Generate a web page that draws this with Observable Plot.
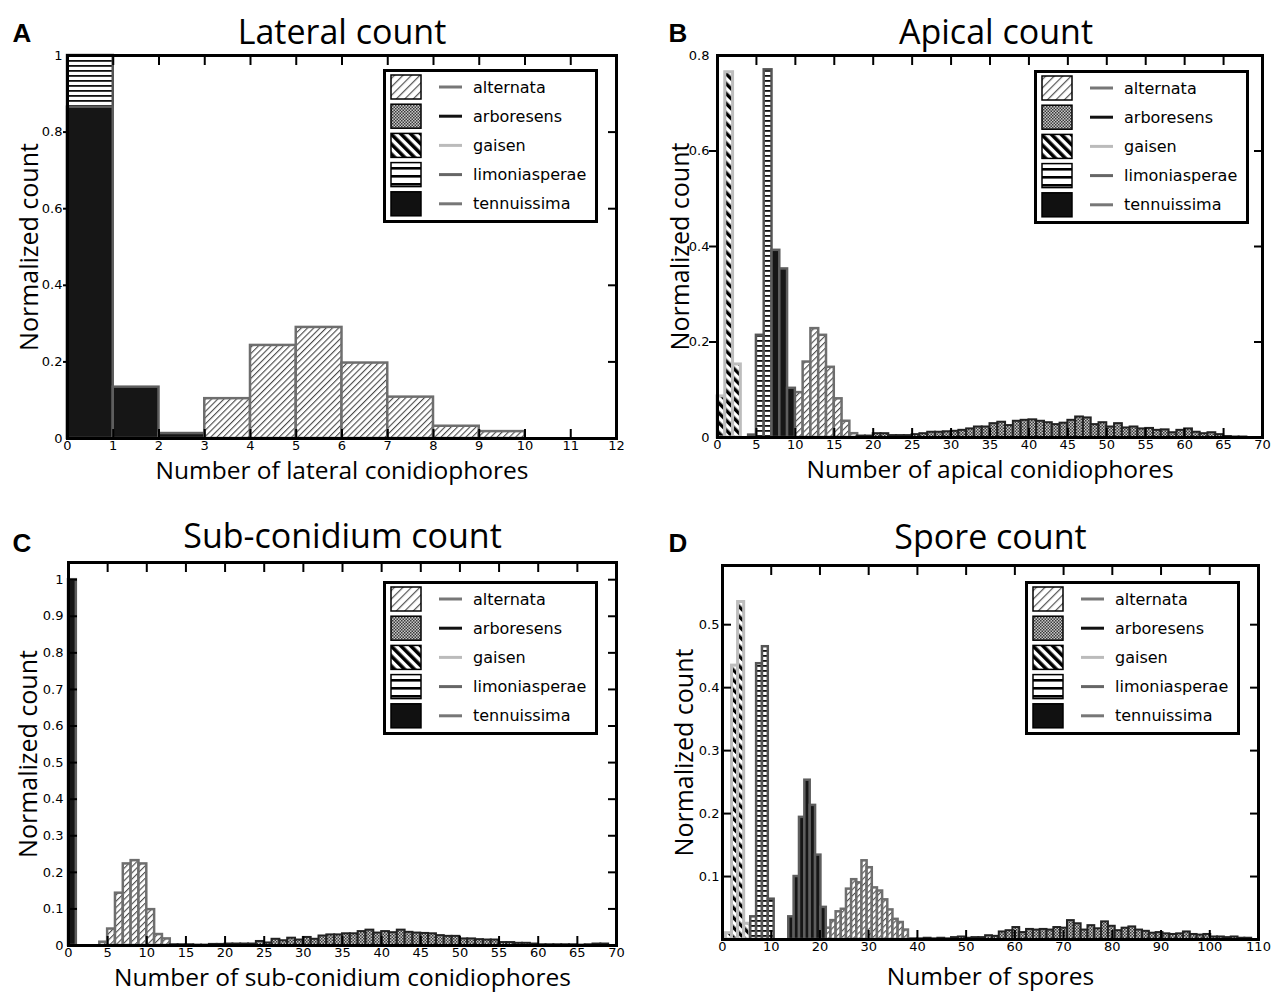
<!DOCTYPE html>
<html><head><meta charset="utf-8">
<script src="https://cdn.jsdelivr.net/npm/d3@7"></script>
<script src="https://cdn.jsdelivr.net/npm/@observablehq/plot@0.6"></script>
<style>
html,body{margin:0;padding:0;background:#fff;}
#root{position:relative;width:1271px;height:992px;overflow:hidden;background:#fff;}
.panel{position:absolute;}
.legend{position:absolute;}
</style></head>
<body><div id="root"></div>
<script>
// ---------------- DATA ----------------
const species = ["alternata", "arboresens", "gaisen", "limoniasperae", "tennuissima"];

// Panel A – lateral conidiophores (bins: start, width, normalized counts)
const latAlternata     = {start: 3, width: 1, values: [0.104, 0.243, 0.290, 0.197, 0.108, 0.032, 0.018]};
const latLimoniasperae = {start: 0, width: 1, values: [1.0]};
const latTennuissima   = {start: 0, width: 1, values: [0.865, 0.134, 0.013]};
const latXTicks = [0, 1, 2, 3, 4, 5, 6, 7, 8, 9, 10, 11, 12];
const latXLabels = ["0","1","2","3","4","5","6","7","8","9","10","11","12"];
const latYTicks = [0, 0.2, 0.4, 0.6, 0.8, 1];
const latYLabels = ["0","0.2","0.4","0.6","0.8","1"];

// Panel B – apical conidiophores
const apiAlternata     = {start: 9, width: 1, values: [0.03, 0.094, 0.158, 0.228, 0.214, 0.147, 0.081, 0.034, 0.008]};
const apiArboresens    = {start: 18, width: 1, values: [0.003, 0.003, 0.008, 0.008, 0.004, 0.004, 0.004, 0.006, 0.008, 0.011, 0.011, 0.012, 0.013, 0.015, 0.018, 0.022, 0.022, 0.029, 0.032, 0.025, 0.034, 0.036, 0.037, 0.034, 0.031, 0.027, 0.030, 0.036, 0.043, 0.041, 0.027, 0.031, 0.022, 0.029, 0.020, 0.022, 0.018, 0.019, 0.015, 0.016, 0.010, 0.015, 0.018, 0.011, 0.008, 0.010, 0.006, 0.002, 0.001, 0.001]};
const apiGaisen        = {start: 0, width: 1, values: [0.086, 0.765, 0.153]};
const apiLimoniasperae = {start: 4, width: 1, values: [0.005, 0.214, 0.770, 0.020, 0.005]};
const apiTennuissima   = {start: 7, width: 1, values: [0.392, 0.353, 0.103]};
const apiXTicks = [0, 5, 10, 15, 20, 25, 30, 35, 40, 45, 50, 55, 60, 65, 70];
const apiXLabels = ["0","5","10","15","20","25","30","35","40","45","50","55","60","65","70"];
const apiYTicks = [0, 0.2, 0.4, 0.6, 0.8];
const apiYLabels = ["0","0.2","0.4","0.6","0.8"];

// Panel C – sub-conidium conidiophores
const subAlternata   = {start: 4, width: 1, values: [0.009, 0.045, 0.143, 0.223, 0.232, 0.223, 0.098, 0.030, 0.018]};
const subArboresens  = {start: 13, width: 1, values: [0.002, 0.002, 0.002, 0.001, 0.001, 0.003, 0.003, 0.004, 0.004, 0.004, 0.004, 0.011, 0.007, 0.017, 0.013, 0.020, 0.015, 0.022, 0.017, 0.026, 0.029, 0.029, 0.032, 0.032, 0.038, 0.042, 0.034, 0.038, 0.035, 0.042, 0.036, 0.034, 0.033, 0.032, 0.027, 0.025, 0.025, 0.018, 0.018, 0.016, 0.015, 0.015, 0.008, 0.008, 0.006, 0.006, 0.004, 0.002, 0.002, 0.002, 0.002, 0.002, 0.001, 0.002, 0.004, 0.004]};
const subTennuissima = {start: 0, width: 1, values: [1.0]};
const subXTicks = [0, 5, 10, 15, 20, 25, 30, 35, 40, 45, 50, 55, 60, 65, 70];
const subXLabels = ["0","5","10","15","20","25","30","35","40","45","50","55","60","65","70"];
const subYTicks = [0, 0.1, 0.2, 0.3, 0.4, 0.5, 0.6, 0.7, 0.8, 0.9, 1];
const subYLabels = ["0","0.1","0.2","0.3","0.4","0.5","0.6","0.7","0.8","0.9","1"];

// Panel D – spores
const spoAlternata     = {start: 21.2, width: 1.06, values: [0.018, 0.030, 0.044, 0.048, 0.080, 0.095, 0.090, 0.125, 0.114, 0.082, 0.077, 0.063, 0.047, 0.032, 0.027, 0.015]};
const spoArboresens    = {start: 38.6, width: 1.4, values: [0.001, 0.001, 0.002, 0.001, 0.002, 0.001, 0.003, 0.004, 0.002, 0.003, 0.003, 0.006, 0.005, 0.012, 0.014, 0.019, 0.011, 0.016, 0.015, 0.016, 0.015, 0.019, 0.018, 0.030, 0.025, 0.015, 0.022, 0.017, 0.028, 0.021, 0.014, 0.018, 0.020, 0.015, 0.013, 0.010, 0.011, 0.009, 0.008, 0.009, 0.012, 0.008, 0.007, 0.008, 0.004, 0.004, 0.003, 0.004, 0.002, 0.002]};
const spoGaisen        = {start: 0.7, width: 1.25, values: [0.010, 0.435, 0.536, 0.025]};
const spoLimoniasperae = {start: 5.8, width: 1.2, values: [0.036, 0.438, 0.465, 0.064]};
const spoTennuissima   = {start: 13.6, width: 1.1, values: [0.036, 0.100, 0.194, 0.253, 0.213, 0.134, 0.051]};
const spoXTicks = [0, 10, 20, 30, 40, 50, 60, 70, 80, 90, 100, 110];
const spoXLabels = ["0","10","20","30","40","50","60","70","80","90","100","110"];
const spoYTicks = [0.1, 0.2, 0.3, 0.4, 0.5];
const spoYLabels = ["0.1","0.2","0.3","0.4","0.5"];

// ---------------- STYLES ----------------
const barStyle = {
  alternata:     {fill: "url(#pat-alternata)", stroke: "#6e6e6e", strokeWidth: 2.5},
  arboresens:    {fill: "url(#pat-arboresens)", stroke: "#222", strokeWidth: 2},
  gaisen:        {fill: "url(#pat-gaisen)", stroke: "#bdbdbd", strokeWidth: 3},
  limoniasperae: {fill: "url(#pat-limoniasperae)", stroke: "#555", strokeWidth: 2.5},
  tennuissima:   {fill: "#161616", stroke: "#5e5e5e", strokeWidth: 2.5}
};
const legendFill = {
  alternata: "url(#pat-alternata-leg)", arboresens: "url(#pat-arboresens)", gaisen: "url(#pat-gaisen-leg)",
  limoniasperae: "url(#pat-limoniasperae-leg)", tennuissima: "#111"
};
const lineColor = {alternata: "#777", arboresens: "#111", gaisen: "#bbb", limoniasperae: "#666", tennuissima: "#777"};

const root = d3.select("#root");

// pattern definitions
const defs = root.append("svg").attr("width", 0).attr("height", 0).style("position", "absolute").append("defs");
function stripePattern(id, size, stripe, color, bg, angle) {
  const p = defs.append("pattern").attr("id", id).attr("patternUnits", "userSpaceOnUse")
    .attr("width", size).attr("height", size).attr("patternTransform", `rotate(${angle})`);
  p.append("rect").attr("width", size).attr("height", size).attr("fill", bg);
  p.append("rect").attr("x", 0).attr("width", stripe).attr("height", size).attr("fill", color);
}
stripePattern("pat-alternata", 4.4, 1.1, "#4a4a4a", "#fff", 45);
stripePattern("pat-alternata-leg", 6, 1.2, "#555", "#fff", 45);
stripePattern("pat-gaisen", 7, 3.4, "#000", "#fff", -45);
stripePattern("pat-gaisen-leg", 7, 3.6, "#000", "#fff", -45);
{
  const p = defs.append("pattern").attr("id", "pat-limoniasperae").attr("patternUnits", "userSpaceOnUse").attr("width", 8).attr("height", 5);
  p.append("rect").attr("width", 8).attr("height", 5).attr("fill", "#fff");
  p.append("rect").attr("y", 0).attr("width", 8).attr("height", 1.8).attr("fill", "#111");
  const q = defs.append("pattern").attr("id", "pat-limoniasperae-leg").attr("patternUnits", "userSpaceOnUse").attr("width", 8).attr("height", 8).attr("y", 2);
  q.append("rect").attr("width", 8).attr("height", 8).attr("fill", "#fff");
  q.append("rect").attr("y", 0).attr("width", 8).attr("height", 2.6).attr("fill", "#000");
  const a = defs.append("pattern").attr("id", "pat-arboresens").attr("patternUnits", "userSpaceOnUse").attr("width", 3).attr("height", 3);
  a.append("rect").attr("width", 3).attr("height", 3).attr("fill", "#c8c8c8");
  a.append("rect").attr("width", 1.5).attr("height", 1.5).attr("fill", "#3a3a3a");
  a.append("rect").attr("x", 1.5).attr("y", 1.5).attr("width", 1.5).attr("height", 1.5).attr("fill", "#3a3a3a");
}

function toBins(s) {
  return s.values.map((v, i) => ({x1: s.start + i * s.width, x2: s.start + (i + 1) * s.width, y: v}));
}
function fmt(ticks, labels) { return d => { const i = ticks.indexOf(d); return i < 0 ? "" : labels[i]; }; }

function panel(cfg) {
  const m = cfg.margin;
  const bars = cfg.series.map(([name, s]) =>
    Plot.rect(toBins(s), {x1: "x1", x2: "x2", y1: 0, y2: "y", ...barStyle[name]}));
  const innerX = cfg.xTicks.slice(1, -1);
  const innerY = cfg.yInner;
  const tickOnly = {fill: "none", label: null, strokeWidth: 2, stroke: "#000"};
  const svg = Plot.plot({
    width: cfg.width, height: cfg.height,
    marginLeft: m[3], marginRight: m[1], marginTop: m[0], marginBottom: m[2],
    x: {domain: cfg.xDomain},
    y: {domain: cfg.yDomain},
    style: {fontFamily: "DejaVu Sans", fontSize: "13px", color: "#000", background: "none", overflow: "visible"},
    marks: [
      ...bars,
      Plot.axisX(cfg.xTicks, {anchor: "bottom", tickSize: 0, tickPadding: 2, tickFormat: fmt(cfg.xTicks, cfg.xLabels), label: null, fontSize: 13}),
      Plot.axisX(innerX, {anchor: "bottom", tickSize: -9, ...tickOnly}),
      Plot.axisX(innerX, {anchor: "top", tickSize: -9, ...tickOnly}),
      Plot.axisY(cfg.yTicks, {anchor: "left", tickSize: 0, tickPadding: cfg.yPad, tickFormat: fmt(cfg.yTicks, cfg.yLabels), label: null, fontSize: 13}),
      Plot.axisY(innerY, {anchor: "left", tickSize: cfg.leftOut ? cfg.leftOut : -9, ...tickOnly}),
      Plot.axisY(innerY, {anchor: "right", tickSize: -9, ...tickOnly}),
      Plot.frame({stroke: "#000", strokeWidth: 3}),
      Plot.text([cfg.title], {text: d => d, frameAnchor: "top", dx: cfg.titleDx, dy: cfg.titleDy, lineAnchor: "bottom", textAnchor: "middle", fontSize: 34, fontFamily: "Open Sans"}),
      Plot.text([cfg.letter], {text: d => d, frameAnchor: "top-left", dx: cfg.letterDx, dy: cfg.letterDy, lineAnchor: "bottom", textAnchor: "start", fontSize: 26, fontWeight: "bold", fontFamily: "Liberation Sans"}),
      Plot.text([cfg.xLabel], {text: d => d, frameAnchor: "bottom", dy: cfg.xLabelDy, lineAnchor: "bottom", textAnchor: "middle", fontSize: 24.5, fontFamily: "Open Sans"}),
      Plot.text(["Normalized count"], {text: d => d, frameAnchor: "left", dx: cfg.yLabelDx, rotate: -90, lineAnchor: "bottom", textAnchor: "middle", fontSize: 25, fontFamily: "Open Sans"})
    ]
  });
  const div = root.append("div").attr("class", "panel").style("left", cfg.left + "px").style("top", cfg.top + "px");
  div.node().appendChild(svg);
}

function legend(left, top) {
  const svg = root.append("svg").attr("class", "legend")
    .style("left", left + "px").style("top", top + "px").attr("width", 215).attr("height", 154);
  svg.append("rect").attr("x", 1.5).attr("y", 1.5).attr("width", 212).attr("height", 151)
    .attr("fill", "#fff").attr("stroke", "#000").attr("stroke-width", 3);
  species.forEach((s, i) => {
    const cy = 18 + i * 29.2;
    svg.append("rect").attr("x", 8).attr("y", cy - 12).attr("width", 30).attr("height", 24)
      .attr("fill", legendFill[s]).attr("stroke", "#000").attr("stroke-width", 1.5);
    svg.append("line").attr("x1", 56).attr("x2", 79).attr("y1", cy).attr("y2", cy)
      .attr("stroke", lineColor[s]).attr("stroke-width", 3);
    svg.append("text").attr("x", 90).attr("y", cy).attr("dy", "0.35em")
      .attr("font-family", "DejaVu Sans").attr("font-size", 16).attr("fill", "#000").text(s);
  });
}

panel({
  left: 0, top: 0, width: 640, height: 492, margin: [55, 24, 54, 67],
  xDomain: [0, 12], yDomain: [0, 1],
  xTicks: latXTicks, xLabels: latXLabels, yTicks: latYTicks, yLabels: latYLabels, yInner: [0.2, 0.4, 0.6, 0.8],
  yPad: 5, leftOut: 4,
  series: [["alternata", latAlternata], ["limoniasperae", latLimoniasperae], ["tennuissima", latTennuissima]],
  title: "Lateral count", titleDx: 0, titleDy: -12, letter: "A", letterDx: -55, letterDy: -14,
  xLabel: "Number of lateral conidiophores", xLabelDy: 40, yLabelDx: -30
});
panel({
  left: 650, top: 0, width: 621, height: 492, margin: [55, 9, 55, 67],
  xDomain: [0, 70], yDomain: [0, 0.8],
  xTicks: apiXTicks, xLabels: apiXLabels, yTicks: apiYTicks, yLabels: apiYLabels, yInner: [0.2, 0.4, 0.6],
  yPad: 8, leftOut: 8,
  series: [["alternata", apiAlternata], ["arboresens", apiArboresens], ["gaisen", apiGaisen], ["limoniasperae", apiLimoniasperae], ["tennuissima", apiTennuissima]],
  title: "Apical count", titleDx: 6, titleDy: -12, letter: "B", letterDx: -49, letterDy: -14,
  xLabel: "Number of apical conidiophores", xLabelDy: 40, yLabelDx: -29
});
panel({
  left: 0, top: 500, width: 640, height: 492, margin: [62, 24, 47, 68],
  xDomain: [0, 70], yDomain: [0, 1.047],
  xTicks: subXTicks, xLabels: subXLabels, yTicks: subYTicks, yLabels: subYLabels,
  yInner: [0.1, 0.2, 0.3, 0.4, 0.5, 0.6, 0.7, 0.8, 0.9, 1],
  yPad: 5, leftOut: 0,
  series: [["alternata", subAlternata], ["arboresens", subArboresens], ["tennuissima", subTennuissima]],
  title: "Sub-conidium count", titleDx: 0, titleDy: -15, letter: "C", letterDx: -56, letterDy: -11,
  xLabel: "Number of sub-conidium conidiophores", xLabelDy: 40, yLabelDx: -32
});
panel({
  left: 650, top: 500, width: 621, height: 492, margin: [65, 13, 53, 72],
  xDomain: [0, 110], yDomain: [0, 0.594],
  xTicks: spoXTicks, xLabels: spoXLabels, yTicks: spoYTicks, yLabels: spoYLabels, yInner: [0.1, 0.2, 0.3, 0.4, 0.5],
  yPad: 3, leftOut: 0,
  series: [["alternata", spoAlternata], ["arboresens", spoArboresens], ["gaisen", spoGaisen], ["limoniasperae", spoLimoniasperae], ["tennuissima", spoTennuissima]],
  title: "Spore count", titleDx: 0, titleDy: -17, letter: "D", letterDx: -54, letterDy: -14,
  xLabel: "Number of spores", xLabelDy: 45, yLabelDx: -30
});

legend(383, 69);
legend(1034, 70);
legend(383, 581);
legend(1025, 581);
</script></body></html>
